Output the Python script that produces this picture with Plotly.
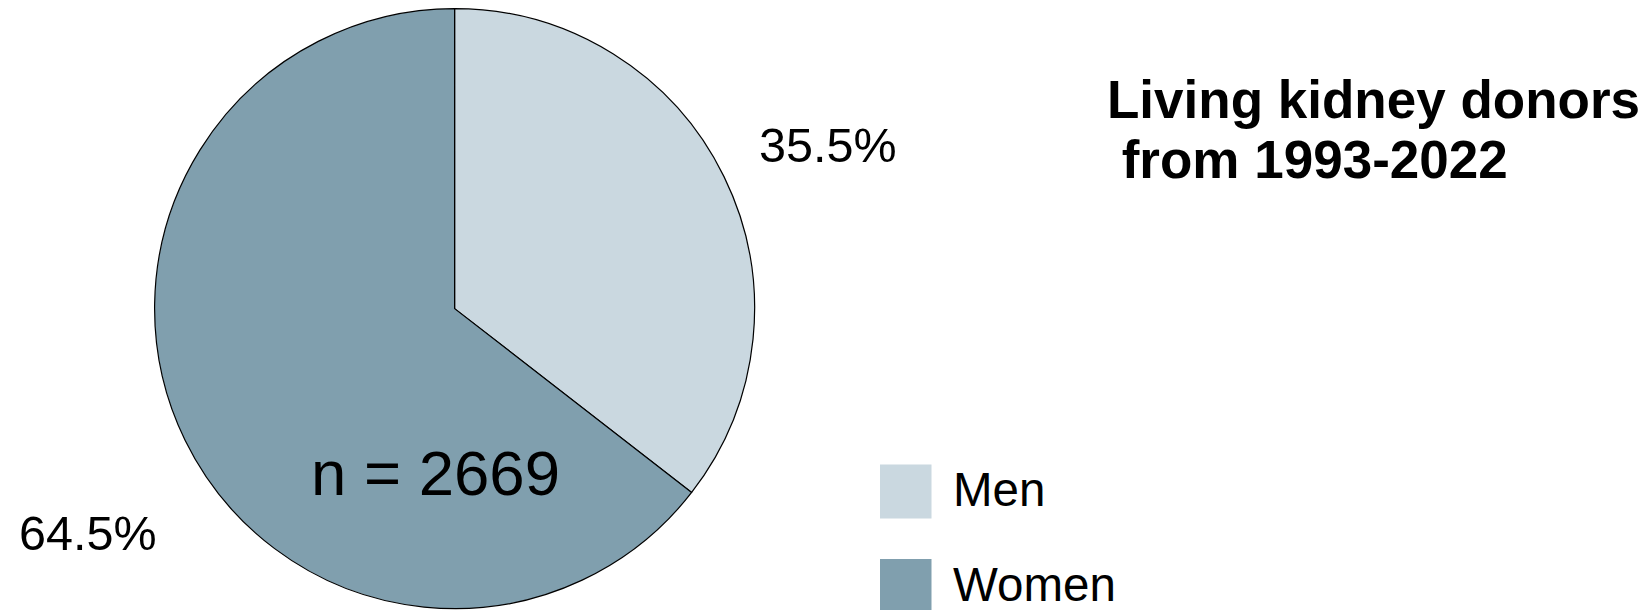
import plotly.graph_objects as go

categories = ["Men", "Women"]
percentages = [35.5, 64.5]
colors = ["#CAD8E0", "#809FAE"]
n_total = 2669
title_lines = ["Living kidney donors", "\u00a0from 1993-2022"]

W, H = 1650, 610
FONT = "Liberation Sans, Arial, sans-serif"

def px(x):
    return x / W

def py(y):
    return 1 - y / H

cx, cy, r = 446.6, 300.6, 300

fig = go.Figure(go.Pie(
    labels=categories,
    values=percentages,
    sort=False,
    direction="clockwise",
    rotation=0,
    marker=dict(colors=colors, line=dict(color="black", width=1.2)),
    textinfo="none",
    hoverinfo="skip",
    showlegend=False,
    domain=dict(x=[px(cx - r), px(cx + r)], y=[py(cy + r), py(cy - r)]),
))

annotations = []
# percentage labels
label_pos = [(819.6, 136.5), (79.6, 524.5)]
for p, (lx, ly) in zip(percentages, label_pos):
    annotations.append(dict(x=px(lx), y=py(ly), xref="paper", yref="paper",
                            text=f"{p:.1f}%", showarrow=False,
                            xanchor="center", yanchor="middle",
                            font=dict(family=FONT, size=48.5, color="black")))
# n label
annotations.append(dict(x=px(427.7), y=py(465), xref="paper", yref="paper",
                        text=f"n = {n_total}", showarrow=False,
                        xanchor="center", yanchor="middle",
                        font=dict(family=FONT, size=63.5, color="black")))
# title (two lines, tight spacing)
for line, ty in zip(title_lines, [91.5, 151.5]):
    annotations.append(dict(x=px(1097), y=py(ty), xref="paper", yref="paper",
                            text="<b>" + line + "</b>", showarrow=False,
                            xanchor="left", yanchor="middle", align="left",
                            font=dict(family=FONT, size=53, color="black")))

# manual legend
shapes = []
leg_y = [481.5, 576]
for cat, col, yc in zip(categories, colors, leg_y):
    shapes.append(dict(type="rect", xref="paper", yref="paper",
                       x0=px(872), x1=px(923.5), y0=py(yc + 2 - 27), y1=py(yc + 2 + 27),
                       fillcolor=col, line=dict(width=0)))
    annotations.append(dict(x=px(943), y=py(yc), xref="paper", yref="paper",
                            text=cat, showarrow=False,
                            xanchor="left", yanchor="middle",
                            font=dict(family=FONT, size=47.5, color="black")))

fig.update_layout(
    width=W, height=H,
    margin=dict(l=0, r=0, t=0, b=0),
    paper_bgcolor="white", plot_bgcolor="white",
    annotations=annotations, shapes=shapes,
    showlegend=False,
)

fig.write_html("out.html")
